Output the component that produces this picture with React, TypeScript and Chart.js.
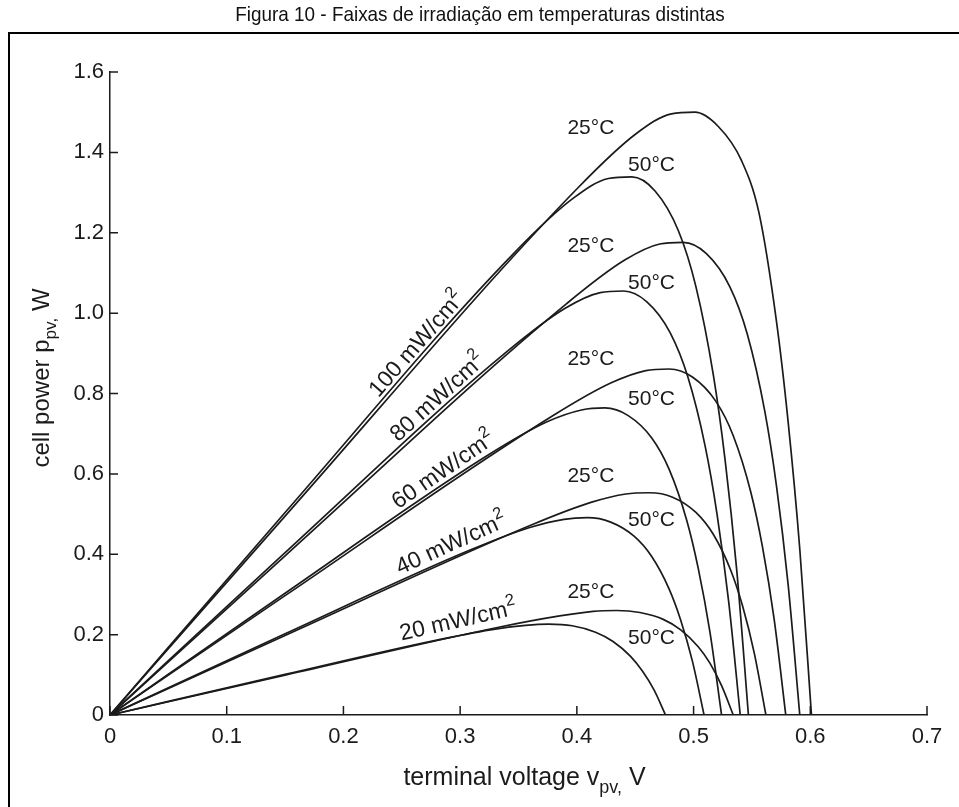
import React, { useEffect, useRef } from "react";
import { Chart, registerables } from "chart.js";

Chart.register(...registerables);

const FONT = '"Liberation Sans", Arial, Helvetica, sans-serif';
const INK = "#1b1b1b";

// Chart title and axis labels
const PAGE_TITLE = "Figura 10 - Faixas de irradiação em temperaturas distintas";
const X_TITLE = ["terminal voltage v", "pv,", " V"];
const Y_TITLE = ["cell power p", "pv,", " W"];

// Axis ranges
const X_MIN = 0, X_MAX = 0.7, X_STEP = 0.1;
const Y_MIN = 0, Y_MAX = 1.6, Y_STEP = 0.2;

// ---- Curves: terminal voltage (V) vs cell power (W) ----
// 25 °C
const v25_100 = [0, 0.15, 0.401, 0.451, 0.481, 0.501, 0.521, 0.541, 0.556, 0.571, 0.581, 0.591, 0.601];
const p25_100 = [0, 0.495, 1.312, 1.447, 1.496, 1.5, 1.465, 1.38, 1.25, 0.98, 0.73, 0.413, 0];
const v25_80 = [0, 0.15, 0.391, 0.441, 0.471, 0.491, 0.511, 0.531, 0.546, 0.561, 0.571, 0.581, 0.591];
const p25_80 = [0, 0.396, 1.023, 1.132, 1.172, 1.176, 1.148, 1.066, 0.948, 0.756, 0.571, 0.325, 0];
const v25_60 = [0, 0.15, 0.379, 0.429, 0.459, 0.479, 0.499, 0.519, 0.534, 0.549, 0.559, 0.569, 0.579];
const p25_60 = [0, 0.297, 0.744, 0.826, 0.857, 0.861, 0.841, 0.781, 0.695, 0.555, 0.419, 0.239, 0];
const v25_40 = [0, 0.15, 0.362, 0.412, 0.442, 0.462, 0.482, 0.502, 0.517, 0.532, 0.542, 0.552, 0.562];
const p25_40 = [0, 0.198, 0.474, 0.529, 0.55, 0.553, 0.542, 0.504, 0.449, 0.359, 0.271, 0.154, 0];
const v25_20 = [0, 0.15, 0.334, 0.384, 0.414, 0.434, 0.454, 0.474, 0.489, 0.504, 0.514, 0.524, 0.534];
const p25_20 = [0, 0.099, 0.219, 0.246, 0.258, 0.26, 0.255, 0.238, 0.212, 0.17, 0.129, 0.073, 0];
// 50 °C
const v50_100 = [0, 0.15, 0.347, 0.397, 0.427, 0.447, 0.467, 0.487, 0.502, 0.517, 0.527, 0.537, 0.547];
const p50_100 = [0, 0.504, 1.152, 1.286, 1.335, 1.339, 1.304, 1.205, 1.066, 0.845, 0.635, 0.36, 0];
const v50_80 = [0, 0.15, 0.34, 0.39, 0.42, 0.44, 0.46, 0.48, 0.495, 0.51, 0.52, 0.53, 0.54];
const p50_80 = [0, 0.404, 0.904, 1.012, 1.051, 1.055, 1.028, 0.951, 0.842, 0.668, 0.502, 0.284, 0];
const v50_60 = [0, 0.15, 0.324, 0.374, 0.404, 0.424, 0.444, 0.464, 0.479, 0.494, 0.504, 0.514, 0.524];
const p50_60 = [0, 0.303, 0.647, 0.729, 0.759, 0.764, 0.745, 0.69, 0.612, 0.486, 0.365, 0.207, 0];
const v50_40 = [0, 0.15, 0.309, 0.359, 0.389, 0.409, 0.429, 0.449, 0.464, 0.479, 0.489, 0.499, 0.509];
const p50_40 = [0, 0.202, 0.411, 0.466, 0.487, 0.491, 0.48, 0.445, 0.395, 0.314, 0.236, 0.134, 0];
const v50_20 = [0, 0.15, 0.276, 0.326, 0.356, 0.376, 0.396, 0.416, 0.431, 0.446, 0.456, 0.466, 0.476];
const p50_20 = [0, 0.101, 0.184, 0.212, 0.223, 0.226, 0.222, 0.206, 0.183, 0.146, 0.11, 0.063, 0];

const CURVES_V = [v25_100, v25_80, v25_60, v25_40, v25_20, v50_100, v50_80, v50_60, v50_40, v50_20];
const CURVES_P = [p25_100, p25_80, p25_60, p25_40, p25_20, p50_100, p50_80, p50_60, p50_40, p50_20];

// ---- Annotations ----
const IRR_TEXT = ["100 mW/cm", "80 mW/cm", "60 mW/cm", "40 mW/cm", "20 mW/cm"];
const IRR_V = [0.262, 0.28, 0.285, 0.292, 0.298];
const IRR_P = [0.925, 0.793, 0.612, 0.429, 0.238];
const IRR_SLOPE_SOURCE = [v25_100, v25_80, v25_60, v25_40, v25_20];
const IRR_SLOPE_SOURCE_P = [p25_100, p25_80, p25_60, p25_40, p25_20];

const T25_TEXT = "25°C";
const T50_TEXT = "50°C";
const T25_V = [0.412, 0.412, 0.412, 0.412, 0.412];
const T25_P = [1.465, 1.17, 0.89, 0.598, 0.31];
const T50_V = [0.464, 0.464, 0.464, 0.464, 0.464];
const T50_P = [1.372, 1.078, 0.79, 0.49, 0.195];

type Part = [string, number, number]; // text, size scale, dy in em

function drawRich(ctx: CanvasRenderingContext2D, parts: Part[], size: number, cx: number, baseline: number) {
  const widths = parts.map(([t, s]) => {
    ctx.font = `${size * s}px ${FONT}`;
    return ctx.measureText(t).width;
  });
  const total = widths.reduce((a, b) => a + b, 0);
  let x = cx - total / 2;
  ctx.textAlign = "left";
  ctx.textBaseline = "alphabetic";
  parts.forEach(([t, s, dy], i) => {
    ctx.font = `${size * s}px ${FONT}`;
    ctx.fillText(t, x, baseline + dy * size);
    x += widths[i];
  });
}

const fmt = (v: number) => (Math.abs(v) < 1e-9 ? "0" : Number(v).toFixed(1));

export default function App() {
  const ref = useRef<HTMLCanvasElement>(null);

  useEffect(() => {
    document.body.style.margin = "0";
    const canvas = ref.current!;

    const datasets = CURVES_V.map((vs, k) => ({
      data: vs.map((x, i) => ({ x, y: CURVES_P[k][i] })),
      borderColor: INK,
      borderWidth: 1.7,
      pointRadius: 0,
      fill: false,
      cubicInterpolationMode: "monotone" as const,
    }));

    const decor = {
      id: "decor",
      beforeDraw(chart: any) {
        const ctx: CanvasRenderingContext2D = chart.ctx;
        ctx.save();
        ctx.fillStyle = "#ffffff";
        ctx.fillRect(0, 0, chart.width, chart.height);
        ctx.fillStyle = "#111";
        ctx.save();
        ctx.translate(480, 15);
        ctx.scale(0.9, 1);
        ctx.font = `21px ${FONT}`;
        ctx.textAlign = "center";
        ctx.textBaseline = "middle";
        ctx.fillText(PAGE_TITLE, 0, 0);
        ctx.restore();
        ctx.strokeStyle = "#000";
        ctx.lineWidth = 2;
        ctx.beginPath();
        ctx.moveTo(9, chart.height + 5);
        ctx.lineTo(9, 33);
        ctx.lineTo(chart.width + 5, 33);
        ctx.stroke();
        ctx.restore();
      },
      afterDraw(chart: any) {
        const ctx: CanvasRenderingContext2D = chart.ctx;
        const xs = chart.scales.x;
        const ys = chart.scales.y;
        const area = chart.chartArea;
        ctx.save();
        ctx.strokeStyle = INK;
        ctx.lineWidth = 1.5;
        ctx.beginPath();
        xs.ticks.forEach((t: any) => {
          const px = xs.getPixelForValue(t.value);
          ctx.moveTo(px, area.bottom);
          ctx.lineTo(px, area.bottom - 9);
        });
        ys.ticks.forEach((t: any) => {
          const py = ys.getPixelForValue(t.value);
          ctx.moveTo(area.left, py);
          ctx.lineTo(area.left + 8, py);
        });
        ctx.stroke();

        ctx.fillStyle = INK;
        // x axis title
        drawRich(ctx, [[X_TITLE[0], 1, 0], [X_TITLE[1], 0.72, 0.3], [X_TITLE[2], 1, 0]], 25, (area.left + area.right) / 2 + 6, 785);
        // y axis title
        ctx.save();
        ctx.translate(49, 378);
        ctx.rotate(-Math.PI / 2);
        drawRich(ctx, [[Y_TITLE[0], 1, 0], [Y_TITLE[1], 0.72, 0.3], [Y_TITLE[2], 1, 0]], 24, 0, 0);
        ctx.restore();

        const pxPerV = (xs.getPixelForValue(0.1) - xs.getPixelForValue(0)) / 0.1;
        const pxPerW = (ys.getPixelForValue(0) - ys.getPixelForValue(0.2)) / 0.2;
        const irrSize = 23;
        IRR_TEXT.forEach((txt, i) => {
          const slope = IRR_SLOPE_SOURCE_P[i][1] / IRR_SLOPE_SOURCE[i][1];
          const ang = Math.atan((slope * pxPerW) / pxPerV);
          ctx.save();
          ctx.translate(xs.getPixelForValue(IRR_V[i]), ys.getPixelForValue(IRR_P[i]));
          ctx.rotate(-ang);
          drawRich(ctx, [[txt, 1, 0], ["2", 0.72, -0.45]], irrSize, 0, irrSize * 0.36);
          ctx.restore();
        });
        const size = 21;
        T25_V.forEach((v, i) => {
          drawRich(ctx, [[T25_TEXT, 1, 0]], size, xs.getPixelForValue(v), ys.getPixelForValue(T25_P[i]) + size * 0.36);
        });
        T50_V.forEach((v, i) => {
          drawRich(ctx, [[T50_TEXT, 1, 0]], size, xs.getPixelForValue(v), ys.getPixelForValue(T50_P[i]) + size * 0.36);
        });
        ctx.restore();
      },
    };

    const chart = new Chart(canvas, {
      type: "line",
      data: { datasets: datasets as any },
      options: {
        responsive: false,
        animation: false,
        layout: { padding: { top: 72, right: 32, left: 0, bottom: 0 } },
        plugins: { legend: { display: false }, tooltip: { enabled: false }, title: { display: false } },
        scales: {
          x: {
            type: "linear",
            min: X_MIN,
            max: X_MAX,
            afterFit: (s: any) => { s.height = 92; },
            ticks: {
              stepSize: X_STEP,
              padding: 9,
              autoSkip: false,
              maxRotation: 0,
              color: INK,
              font: { family: FONT, size: 22 },
              callback: (v: any) => fmt(Number(v)),
            },
            grid: { display: false, drawTicks: false },
            border: { display: true, color: INK, width: 1.5 },
          },
          y: {
            type: "linear",
            min: Y_MIN,
            max: Y_MAX,
            afterFit: (s: any) => { s.width = 110; },
            ticks: {
              stepSize: Y_STEP,
              padding: 6,
              color: INK,
              font: { family: FONT, size: 22 },
              callback: (v: any) => fmt(Number(v)),
            },
            grid: { display: false, drawTicks: false },
            border: { display: true, color: INK, width: 1.5 },
          },
        },
      } as any,
      plugins: [decor],
    });
    return () => chart.destroy();
  }, []);

  return <canvas ref={ref} width={959} height={807} style={{ display: "block" }} />;
}
